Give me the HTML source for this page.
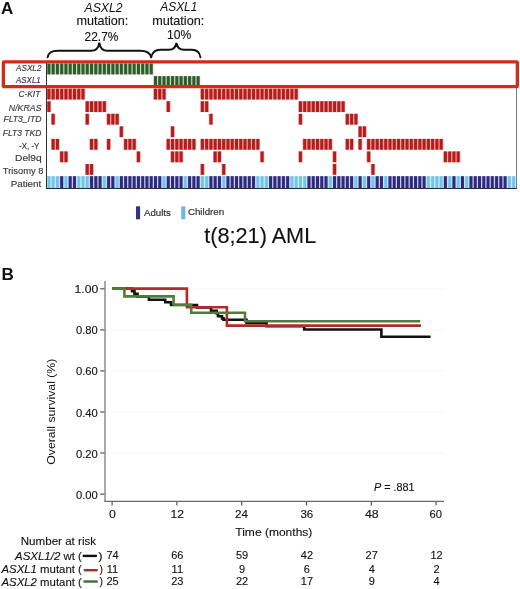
<!DOCTYPE html>
<html><head><meta charset="utf-8"><style>
html,body{margin:0;padding:0;background:#fff;}
body{width:520px;height:589px;overflow:hidden;}
svg{display:block;font-family:"Liberation Sans",sans-serif;filter:blur(0.35px);}
</style></head><body>
<svg width="520" height="589" viewBox="0 0 520 589">
<rect width="520" height="589" fill="#fff"/>
<g fill="none" stroke="#111" stroke-width="1.9" stroke-linecap="round">
<path d="M47.6,57.3 C48.5,52 52,50.8 58,50.8 L91,50.8 C96,50.8 98.6,48 99.3,42.6 C100,48 102.6,50.8 107.6,50.8 L140,50.8 C146,50.8 150,52 151.2,57.3"/>
<path d="M151.2,57.3 C152.4,52 155,49.8 160,49.8 L169,49.8 C173.5,49.8 175.6,47.5 176.4,43 C177.2,47.5 179.3,49.8 184,49.8 L192,49.8 C197,49.8 199.6,52 200.4,57.3"/>
</g>
<line x1="516.5" y1="87" x2="516.5" y2="188.8" stroke="#7a7a7a" stroke-width="1"/>
<rect x="46.72" y="63.60" width="4.36" height="10.8" fill="#b4d3af"/>
<rect x="50.98" y="63.60" width="4.36" height="10.8" fill="#b4d3af"/>
<rect x="55.25" y="63.60" width="4.36" height="10.8" fill="#b4d3af"/>
<rect x="59.51" y="63.60" width="4.36" height="10.8" fill="#b4d3af"/>
<rect x="63.77" y="63.60" width="4.36" height="10.8" fill="#b4d3af"/>
<rect x="68.04" y="63.60" width="4.36" height="10.8" fill="#b4d3af"/>
<rect x="72.30" y="63.60" width="4.36" height="10.8" fill="#b4d3af"/>
<rect x="76.56" y="63.60" width="4.36" height="10.8" fill="#b4d3af"/>
<rect x="80.83" y="63.60" width="4.36" height="10.8" fill="#b4d3af"/>
<rect x="85.09" y="63.60" width="4.36" height="10.8" fill="#b4d3af"/>
<rect x="89.35" y="63.60" width="4.36" height="10.8" fill="#b4d3af"/>
<rect x="93.62" y="63.60" width="4.36" height="10.8" fill="#b4d3af"/>
<rect x="97.88" y="63.60" width="4.36" height="10.8" fill="#b4d3af"/>
<rect x="102.14" y="63.60" width="4.36" height="10.8" fill="#b4d3af"/>
<rect x="106.41" y="63.60" width="4.36" height="10.8" fill="#b4d3af"/>
<rect x="110.67" y="63.60" width="4.36" height="10.8" fill="#b4d3af"/>
<rect x="114.94" y="63.60" width="4.36" height="10.8" fill="#b4d3af"/>
<rect x="119.20" y="63.60" width="4.36" height="10.8" fill="#b4d3af"/>
<rect x="123.46" y="63.60" width="4.36" height="10.8" fill="#b4d3af"/>
<rect x="127.73" y="63.60" width="4.36" height="10.8" fill="#b4d3af"/>
<rect x="131.99" y="63.60" width="4.36" height="10.8" fill="#b4d3af"/>
<rect x="136.25" y="63.60" width="4.36" height="10.8" fill="#b4d3af"/>
<rect x="140.52" y="63.60" width="4.36" height="10.8" fill="#b4d3af"/>
<rect x="144.78" y="63.60" width="4.36" height="10.8" fill="#b4d3af"/>
<rect x="149.04" y="63.60" width="4.36" height="10.8" fill="#b4d3af"/>
<rect x="153.31" y="76.15" width="4.36" height="10.8" fill="#b4d3af"/>
<rect x="157.57" y="76.15" width="4.36" height="10.8" fill="#b4d3af"/>
<rect x="161.84" y="76.15" width="4.36" height="10.8" fill="#b4d3af"/>
<rect x="166.10" y="76.15" width="4.36" height="10.8" fill="#b4d3af"/>
<rect x="170.36" y="76.15" width="4.36" height="10.8" fill="#b4d3af"/>
<rect x="174.63" y="76.15" width="4.36" height="10.8" fill="#b4d3af"/>
<rect x="178.89" y="76.15" width="4.36" height="10.8" fill="#b4d3af"/>
<rect x="183.15" y="76.15" width="4.36" height="10.8" fill="#b4d3af"/>
<rect x="187.42" y="76.15" width="4.36" height="10.8" fill="#b4d3af"/>
<rect x="191.68" y="76.15" width="4.36" height="10.8" fill="#b4d3af"/>
<rect x="195.94" y="76.15" width="4.36" height="10.8" fill="#b4d3af"/>
<rect x="46.72" y="88.70" width="4.36" height="10.8" fill="#ee9c8e"/>
<rect x="50.98" y="88.70" width="4.36" height="10.8" fill="#ee9c8e"/>
<rect x="55.25" y="88.70" width="4.36" height="10.8" fill="#ee9c8e"/>
<rect x="59.51" y="88.70" width="4.36" height="10.8" fill="#ee9c8e"/>
<rect x="63.77" y="88.70" width="4.36" height="10.8" fill="#ee9c8e"/>
<rect x="68.04" y="88.70" width="4.36" height="10.8" fill="#ee9c8e"/>
<rect x="72.30" y="88.70" width="4.36" height="10.8" fill="#ee9c8e"/>
<rect x="76.56" y="88.70" width="4.36" height="10.8" fill="#ee9c8e"/>
<rect x="80.83" y="88.70" width="4.36" height="10.8" fill="#ee9c8e"/>
<rect x="153.31" y="88.70" width="4.36" height="10.8" fill="#ee9c8e"/>
<rect x="157.57" y="88.70" width="4.36" height="10.8" fill="#ee9c8e"/>
<rect x="161.84" y="88.70" width="4.36" height="10.8" fill="#ee9c8e"/>
<rect x="200.21" y="88.70" width="4.36" height="10.8" fill="#ee9c8e"/>
<rect x="204.47" y="88.70" width="4.36" height="10.8" fill="#ee9c8e"/>
<rect x="208.74" y="88.70" width="4.36" height="10.8" fill="#ee9c8e"/>
<rect x="213.00" y="88.70" width="4.36" height="10.8" fill="#ee9c8e"/>
<rect x="217.26" y="88.70" width="4.36" height="10.8" fill="#ee9c8e"/>
<rect x="221.53" y="88.70" width="4.36" height="10.8" fill="#ee9c8e"/>
<rect x="225.79" y="88.70" width="4.36" height="10.8" fill="#ee9c8e"/>
<rect x="230.05" y="88.70" width="4.36" height="10.8" fill="#ee9c8e"/>
<rect x="234.32" y="88.70" width="4.36" height="10.8" fill="#ee9c8e"/>
<rect x="238.58" y="88.70" width="4.36" height="10.8" fill="#ee9c8e"/>
<rect x="242.84" y="88.70" width="4.36" height="10.8" fill="#ee9c8e"/>
<rect x="247.11" y="88.70" width="4.36" height="10.8" fill="#ee9c8e"/>
<rect x="251.37" y="88.70" width="4.36" height="10.8" fill="#ee9c8e"/>
<rect x="255.63" y="88.70" width="4.36" height="10.8" fill="#ee9c8e"/>
<rect x="259.90" y="88.70" width="4.36" height="10.8" fill="#ee9c8e"/>
<rect x="264.16" y="88.70" width="4.36" height="10.8" fill="#ee9c8e"/>
<rect x="268.43" y="88.70" width="4.36" height="10.8" fill="#ee9c8e"/>
<rect x="272.69" y="88.70" width="4.36" height="10.8" fill="#ee9c8e"/>
<rect x="276.95" y="88.70" width="4.36" height="10.8" fill="#ee9c8e"/>
<rect x="281.22" y="88.70" width="4.36" height="10.8" fill="#ee9c8e"/>
<rect x="285.48" y="88.70" width="4.36" height="10.8" fill="#ee9c8e"/>
<rect x="289.74" y="88.70" width="4.36" height="10.8" fill="#ee9c8e"/>
<rect x="294.01" y="88.70" width="4.36" height="10.8" fill="#ee9c8e"/>
<rect x="46.72" y="101.25" width="4.36" height="10.8" fill="#ee9c8e"/>
<rect x="85.09" y="101.25" width="4.36" height="10.8" fill="#ee9c8e"/>
<rect x="89.35" y="101.25" width="4.36" height="10.8" fill="#ee9c8e"/>
<rect x="93.62" y="101.25" width="4.36" height="10.8" fill="#ee9c8e"/>
<rect x="97.88" y="101.25" width="4.36" height="10.8" fill="#ee9c8e"/>
<rect x="102.14" y="101.25" width="4.36" height="10.8" fill="#ee9c8e"/>
<rect x="166.10" y="101.25" width="4.36" height="10.8" fill="#ee9c8e"/>
<rect x="200.21" y="101.25" width="4.36" height="10.8" fill="#ee9c8e"/>
<rect x="204.47" y="101.25" width="4.36" height="10.8" fill="#ee9c8e"/>
<rect x="298.27" y="101.25" width="4.36" height="10.8" fill="#ee9c8e"/>
<rect x="302.53" y="101.25" width="4.36" height="10.8" fill="#ee9c8e"/>
<rect x="306.80" y="101.25" width="4.36" height="10.8" fill="#ee9c8e"/>
<rect x="311.06" y="101.25" width="4.36" height="10.8" fill="#ee9c8e"/>
<rect x="315.32" y="101.25" width="4.36" height="10.8" fill="#ee9c8e"/>
<rect x="319.59" y="101.25" width="4.36" height="10.8" fill="#ee9c8e"/>
<rect x="323.85" y="101.25" width="4.36" height="10.8" fill="#ee9c8e"/>
<rect x="328.12" y="101.25" width="4.36" height="10.8" fill="#ee9c8e"/>
<rect x="332.38" y="101.25" width="4.36" height="10.8" fill="#ee9c8e"/>
<rect x="336.64" y="101.25" width="4.36" height="10.8" fill="#ee9c8e"/>
<rect x="340.91" y="101.25" width="4.36" height="10.8" fill="#ee9c8e"/>
<rect x="50.98" y="113.80" width="4.36" height="10.8" fill="#ee9c8e"/>
<rect x="85.09" y="113.80" width="4.36" height="10.8" fill="#ee9c8e"/>
<rect x="106.41" y="113.80" width="4.36" height="10.8" fill="#ee9c8e"/>
<rect x="110.67" y="113.80" width="4.36" height="10.8" fill="#ee9c8e"/>
<rect x="114.94" y="113.80" width="4.36" height="10.8" fill="#ee9c8e"/>
<rect x="208.74" y="113.80" width="4.36" height="10.8" fill="#ee9c8e"/>
<rect x="298.27" y="113.80" width="4.36" height="10.8" fill="#ee9c8e"/>
<rect x="345.17" y="113.80" width="4.36" height="10.8" fill="#ee9c8e"/>
<rect x="349.43" y="113.80" width="4.36" height="10.8" fill="#ee9c8e"/>
<rect x="353.70" y="113.80" width="4.36" height="10.8" fill="#ee9c8e"/>
<rect x="119.20" y="126.35" width="4.36" height="10.8" fill="#ee9c8e"/>
<rect x="170.36" y="126.35" width="4.36" height="10.8" fill="#ee9c8e"/>
<rect x="357.96" y="126.35" width="4.36" height="10.8" fill="#ee9c8e"/>
<rect x="362.22" y="126.35" width="4.36" height="10.8" fill="#ee9c8e"/>
<rect x="50.98" y="138.90" width="4.36" height="10.8" fill="#ee9c8e"/>
<rect x="55.25" y="138.90" width="4.36" height="10.8" fill="#ee9c8e"/>
<rect x="89.35" y="138.90" width="4.36" height="10.8" fill="#ee9c8e"/>
<rect x="93.62" y="138.90" width="4.36" height="10.8" fill="#ee9c8e"/>
<rect x="106.41" y="138.90" width="4.36" height="10.8" fill="#ee9c8e"/>
<rect x="123.46" y="138.90" width="4.36" height="10.8" fill="#ee9c8e"/>
<rect x="127.73" y="138.90" width="4.36" height="10.8" fill="#ee9c8e"/>
<rect x="131.99" y="138.90" width="4.36" height="10.8" fill="#ee9c8e"/>
<rect x="166.10" y="138.90" width="4.36" height="10.8" fill="#ee9c8e"/>
<rect x="170.36" y="138.90" width="4.36" height="10.8" fill="#ee9c8e"/>
<rect x="174.63" y="138.90" width="4.36" height="10.8" fill="#ee9c8e"/>
<rect x="178.89" y="138.90" width="4.36" height="10.8" fill="#ee9c8e"/>
<rect x="183.15" y="138.90" width="4.36" height="10.8" fill="#ee9c8e"/>
<rect x="187.42" y="138.90" width="4.36" height="10.8" fill="#ee9c8e"/>
<rect x="191.68" y="138.90" width="4.36" height="10.8" fill="#ee9c8e"/>
<rect x="200.21" y="138.90" width="4.36" height="10.8" fill="#ee9c8e"/>
<rect x="204.47" y="138.90" width="4.36" height="10.8" fill="#ee9c8e"/>
<rect x="208.74" y="138.90" width="4.36" height="10.8" fill="#ee9c8e"/>
<rect x="213.00" y="138.90" width="4.36" height="10.8" fill="#ee9c8e"/>
<rect x="217.26" y="138.90" width="4.36" height="10.8" fill="#ee9c8e"/>
<rect x="221.53" y="138.90" width="4.36" height="10.8" fill="#ee9c8e"/>
<rect x="225.79" y="138.90" width="4.36" height="10.8" fill="#ee9c8e"/>
<rect x="230.05" y="138.90" width="4.36" height="10.8" fill="#ee9c8e"/>
<rect x="234.32" y="138.90" width="4.36" height="10.8" fill="#ee9c8e"/>
<rect x="238.58" y="138.90" width="4.36" height="10.8" fill="#ee9c8e"/>
<rect x="242.84" y="138.90" width="4.36" height="10.8" fill="#ee9c8e"/>
<rect x="247.11" y="138.90" width="4.36" height="10.8" fill="#ee9c8e"/>
<rect x="251.37" y="138.90" width="4.36" height="10.8" fill="#ee9c8e"/>
<rect x="255.63" y="138.90" width="4.36" height="10.8" fill="#ee9c8e"/>
<rect x="302.53" y="138.90" width="4.36" height="10.8" fill="#ee9c8e"/>
<rect x="306.80" y="138.90" width="4.36" height="10.8" fill="#ee9c8e"/>
<rect x="311.06" y="138.90" width="4.36" height="10.8" fill="#ee9c8e"/>
<rect x="315.32" y="138.90" width="4.36" height="10.8" fill="#ee9c8e"/>
<rect x="319.59" y="138.90" width="4.36" height="10.8" fill="#ee9c8e"/>
<rect x="323.85" y="138.90" width="4.36" height="10.8" fill="#ee9c8e"/>
<rect x="328.12" y="138.90" width="4.36" height="10.8" fill="#ee9c8e"/>
<rect x="345.17" y="138.90" width="4.36" height="10.8" fill="#ee9c8e"/>
<rect x="349.43" y="138.90" width="4.36" height="10.8" fill="#ee9c8e"/>
<rect x="357.96" y="138.90" width="4.36" height="10.8" fill="#ee9c8e"/>
<rect x="366.49" y="138.90" width="4.36" height="10.8" fill="#ee9c8e"/>
<rect x="370.75" y="138.90" width="4.36" height="10.8" fill="#ee9c8e"/>
<rect x="375.02" y="138.90" width="4.36" height="10.8" fill="#ee9c8e"/>
<rect x="379.28" y="138.90" width="4.36" height="10.8" fill="#ee9c8e"/>
<rect x="383.54" y="138.90" width="4.36" height="10.8" fill="#ee9c8e"/>
<rect x="387.81" y="138.90" width="4.36" height="10.8" fill="#ee9c8e"/>
<rect x="392.07" y="138.90" width="4.36" height="10.8" fill="#ee9c8e"/>
<rect x="396.33" y="138.90" width="4.36" height="10.8" fill="#ee9c8e"/>
<rect x="400.60" y="138.90" width="4.36" height="10.8" fill="#ee9c8e"/>
<rect x="404.86" y="138.90" width="4.36" height="10.8" fill="#ee9c8e"/>
<rect x="409.12" y="138.90" width="4.36" height="10.8" fill="#ee9c8e"/>
<rect x="413.39" y="138.90" width="4.36" height="10.8" fill="#ee9c8e"/>
<rect x="417.65" y="138.90" width="4.36" height="10.8" fill="#ee9c8e"/>
<rect x="421.92" y="138.90" width="4.36" height="10.8" fill="#ee9c8e"/>
<rect x="426.18" y="138.90" width="4.36" height="10.8" fill="#ee9c8e"/>
<rect x="430.44" y="138.90" width="4.36" height="10.8" fill="#ee9c8e"/>
<rect x="434.71" y="138.90" width="4.36" height="10.8" fill="#ee9c8e"/>
<rect x="438.97" y="138.90" width="4.36" height="10.8" fill="#ee9c8e"/>
<rect x="59.51" y="151.45" width="4.36" height="10.8" fill="#ee9c8e"/>
<rect x="63.77" y="151.45" width="4.36" height="10.8" fill="#ee9c8e"/>
<rect x="136.25" y="151.45" width="4.36" height="10.8" fill="#ee9c8e"/>
<rect x="170.36" y="151.45" width="4.36" height="10.8" fill="#ee9c8e"/>
<rect x="174.63" y="151.45" width="4.36" height="10.8" fill="#ee9c8e"/>
<rect x="178.89" y="151.45" width="4.36" height="10.8" fill="#ee9c8e"/>
<rect x="213.00" y="151.45" width="4.36" height="10.8" fill="#ee9c8e"/>
<rect x="217.26" y="151.45" width="4.36" height="10.8" fill="#ee9c8e"/>
<rect x="259.90" y="151.45" width="4.36" height="10.8" fill="#ee9c8e"/>
<rect x="298.27" y="151.45" width="4.36" height="10.8" fill="#ee9c8e"/>
<rect x="332.38" y="151.45" width="4.36" height="10.8" fill="#ee9c8e"/>
<rect x="366.49" y="151.45" width="4.36" height="10.8" fill="#ee9c8e"/>
<rect x="443.23" y="151.45" width="4.36" height="10.8" fill="#ee9c8e"/>
<rect x="447.50" y="151.45" width="4.36" height="10.8" fill="#ee9c8e"/>
<rect x="451.76" y="151.45" width="4.36" height="10.8" fill="#ee9c8e"/>
<rect x="456.02" y="151.45" width="4.36" height="10.8" fill="#ee9c8e"/>
<rect x="85.09" y="164.00" width="4.36" height="10.8" fill="#ee9c8e"/>
<rect x="89.35" y="164.00" width="4.36" height="10.8" fill="#ee9c8e"/>
<rect x="200.21" y="164.00" width="4.36" height="10.8" fill="#ee9c8e"/>
<rect x="221.53" y="164.00" width="4.36" height="10.8" fill="#ee9c8e"/>
<rect x="332.38" y="164.00" width="4.36" height="10.8" fill="#ee9c8e"/>
<rect x="370.75" y="164.00" width="4.36" height="10.8" fill="#ee9c8e"/>
<rect x="46.72" y="176.20" width="4.36" height="11.8" fill="#c8ecf8"/>
<rect x="50.98" y="176.20" width="4.36" height="11.8" fill="#c8ecf8"/>
<rect x="55.25" y="176.20" width="4.36" height="11.8" fill="#c8ecf8"/>
<rect x="59.51" y="176.20" width="4.36" height="11.8" fill="#c4c4ec"/>
<rect x="63.77" y="176.20" width="4.36" height="11.8" fill="#c8ecf8"/>
<rect x="68.04" y="176.20" width="4.36" height="11.8" fill="#c4c4ec"/>
<rect x="72.30" y="176.20" width="4.36" height="11.8" fill="#c4c4ec"/>
<rect x="76.56" y="176.20" width="4.36" height="11.8" fill="#c8ecf8"/>
<rect x="80.83" y="176.20" width="4.36" height="11.8" fill="#c8ecf8"/>
<rect x="85.09" y="176.20" width="4.36" height="11.8" fill="#c8ecf8"/>
<rect x="89.35" y="176.20" width="4.36" height="11.8" fill="#c4c4ec"/>
<rect x="93.62" y="176.20" width="4.36" height="11.8" fill="#c4c4ec"/>
<rect x="97.88" y="176.20" width="4.36" height="11.8" fill="#c4c4ec"/>
<rect x="102.14" y="176.20" width="4.36" height="11.8" fill="#c8ecf8"/>
<rect x="106.41" y="176.20" width="4.36" height="11.8" fill="#c4c4ec"/>
<rect x="110.67" y="176.20" width="4.36" height="11.8" fill="#c4c4ec"/>
<rect x="114.94" y="176.20" width="4.36" height="11.8" fill="#c8ecf8"/>
<rect x="119.20" y="176.20" width="4.36" height="11.8" fill="#c4c4ec"/>
<rect x="123.46" y="176.20" width="4.36" height="11.8" fill="#c4c4ec"/>
<rect x="127.73" y="176.20" width="4.36" height="11.8" fill="#c4c4ec"/>
<rect x="131.99" y="176.20" width="4.36" height="11.8" fill="#c4c4ec"/>
<rect x="136.25" y="176.20" width="4.36" height="11.8" fill="#c4c4ec"/>
<rect x="140.52" y="176.20" width="4.36" height="11.8" fill="#c4c4ec"/>
<rect x="144.78" y="176.20" width="4.36" height="11.8" fill="#c4c4ec"/>
<rect x="149.04" y="176.20" width="4.36" height="11.8" fill="#c4c4ec"/>
<rect x="153.31" y="176.20" width="4.36" height="11.8" fill="#c4c4ec"/>
<rect x="157.57" y="176.20" width="4.36" height="11.8" fill="#c4c4ec"/>
<rect x="161.84" y="176.20" width="4.36" height="11.8" fill="#c8ecf8"/>
<rect x="166.10" y="176.20" width="4.36" height="11.8" fill="#c4c4ec"/>
<rect x="170.36" y="176.20" width="4.36" height="11.8" fill="#c4c4ec"/>
<rect x="174.63" y="176.20" width="4.36" height="11.8" fill="#c4c4ec"/>
<rect x="178.89" y="176.20" width="4.36" height="11.8" fill="#c4c4ec"/>
<rect x="183.15" y="176.20" width="4.36" height="11.8" fill="#c8ecf8"/>
<rect x="187.42" y="176.20" width="4.36" height="11.8" fill="#c4c4ec"/>
<rect x="191.68" y="176.20" width="4.36" height="11.8" fill="#c4c4ec"/>
<rect x="195.94" y="176.20" width="4.36" height="11.8" fill="#c4c4ec"/>
<rect x="200.21" y="176.20" width="4.36" height="11.8" fill="#c8ecf8"/>
<rect x="204.47" y="176.20" width="4.36" height="11.8" fill="#c8ecf8"/>
<rect x="208.74" y="176.20" width="4.36" height="11.8" fill="#c4c4ec"/>
<rect x="213.00" y="176.20" width="4.36" height="11.8" fill="#c4c4ec"/>
<rect x="217.26" y="176.20" width="4.36" height="11.8" fill="#c4c4ec"/>
<rect x="221.53" y="176.20" width="4.36" height="11.8" fill="#c8ecf8"/>
<rect x="225.79" y="176.20" width="4.36" height="11.8" fill="#c4c4ec"/>
<rect x="230.05" y="176.20" width="4.36" height="11.8" fill="#c4c4ec"/>
<rect x="234.32" y="176.20" width="4.36" height="11.8" fill="#c4c4ec"/>
<rect x="238.58" y="176.20" width="4.36" height="11.8" fill="#c4c4ec"/>
<rect x="242.84" y="176.20" width="4.36" height="11.8" fill="#c4c4ec"/>
<rect x="247.11" y="176.20" width="4.36" height="11.8" fill="#c4c4ec"/>
<rect x="251.37" y="176.20" width="4.36" height="11.8" fill="#c4c4ec"/>
<rect x="255.63" y="176.20" width="4.36" height="11.8" fill="#c8ecf8"/>
<rect x="259.90" y="176.20" width="4.36" height="11.8" fill="#c8ecf8"/>
<rect x="264.16" y="176.20" width="4.36" height="11.8" fill="#c8ecf8"/>
<rect x="268.43" y="176.20" width="4.36" height="11.8" fill="#c4c4ec"/>
<rect x="272.69" y="176.20" width="4.36" height="11.8" fill="#c4c4ec"/>
<rect x="276.95" y="176.20" width="4.36" height="11.8" fill="#c4c4ec"/>
<rect x="281.22" y="176.20" width="4.36" height="11.8" fill="#c4c4ec"/>
<rect x="285.48" y="176.20" width="4.36" height="11.8" fill="#c4c4ec"/>
<rect x="289.74" y="176.20" width="4.36" height="11.8" fill="#c8ecf8"/>
<rect x="294.01" y="176.20" width="4.36" height="11.8" fill="#c8ecf8"/>
<rect x="298.27" y="176.20" width="4.36" height="11.8" fill="#c8ecf8"/>
<rect x="302.53" y="176.20" width="4.36" height="11.8" fill="#c8ecf8"/>
<rect x="306.80" y="176.20" width="4.36" height="11.8" fill="#c4c4ec"/>
<rect x="311.06" y="176.20" width="4.36" height="11.8" fill="#c4c4ec"/>
<rect x="315.32" y="176.20" width="4.36" height="11.8" fill="#c4c4ec"/>
<rect x="319.59" y="176.20" width="4.36" height="11.8" fill="#c4c4ec"/>
<rect x="323.85" y="176.20" width="4.36" height="11.8" fill="#c4c4ec"/>
<rect x="328.12" y="176.20" width="4.36" height="11.8" fill="#c8ecf8"/>
<rect x="332.38" y="176.20" width="4.36" height="11.8" fill="#c4c4ec"/>
<rect x="336.64" y="176.20" width="4.36" height="11.8" fill="#c4c4ec"/>
<rect x="340.91" y="176.20" width="4.36" height="11.8" fill="#c4c4ec"/>
<rect x="345.17" y="176.20" width="4.36" height="11.8" fill="#c4c4ec"/>
<rect x="349.43" y="176.20" width="4.36" height="11.8" fill="#c4c4ec"/>
<rect x="353.70" y="176.20" width="4.36" height="11.8" fill="#c8ecf8"/>
<rect x="357.96" y="176.20" width="4.36" height="11.8" fill="#c4c4ec"/>
<rect x="362.22" y="176.20" width="4.36" height="11.8" fill="#c8ecf8"/>
<rect x="366.49" y="176.20" width="4.36" height="11.8" fill="#c4c4ec"/>
<rect x="370.75" y="176.20" width="4.36" height="11.8" fill="#c8ecf8"/>
<rect x="375.02" y="176.20" width="4.36" height="11.8" fill="#c4c4ec"/>
<rect x="379.28" y="176.20" width="4.36" height="11.8" fill="#c4c4ec"/>
<rect x="383.54" y="176.20" width="4.36" height="11.8" fill="#c8ecf8"/>
<rect x="387.81" y="176.20" width="4.36" height="11.8" fill="#c4c4ec"/>
<rect x="392.07" y="176.20" width="4.36" height="11.8" fill="#c4c4ec"/>
<rect x="396.33" y="176.20" width="4.36" height="11.8" fill="#c4c4ec"/>
<rect x="400.60" y="176.20" width="4.36" height="11.8" fill="#c4c4ec"/>
<rect x="404.86" y="176.20" width="4.36" height="11.8" fill="#c4c4ec"/>
<rect x="409.12" y="176.20" width="4.36" height="11.8" fill="#c4c4ec"/>
<rect x="413.39" y="176.20" width="4.36" height="11.8" fill="#c4c4ec"/>
<rect x="417.65" y="176.20" width="4.36" height="11.8" fill="#c4c4ec"/>
<rect x="421.92" y="176.20" width="4.36" height="11.8" fill="#c4c4ec"/>
<rect x="426.18" y="176.20" width="4.36" height="11.8" fill="#c8ecf8"/>
<rect x="430.44" y="176.20" width="4.36" height="11.8" fill="#c8ecf8"/>
<rect x="434.71" y="176.20" width="4.36" height="11.8" fill="#c8ecf8"/>
<rect x="438.97" y="176.20" width="4.36" height="11.8" fill="#c8ecf8"/>
<rect x="443.23" y="176.20" width="4.36" height="11.8" fill="#c4c4ec"/>
<rect x="447.50" y="176.20" width="4.36" height="11.8" fill="#c8ecf8"/>
<rect x="451.76" y="176.20" width="4.36" height="11.8" fill="#c4c4ec"/>
<rect x="456.02" y="176.20" width="4.36" height="11.8" fill="#c8ecf8"/>
<rect x="460.29" y="176.20" width="4.36" height="11.8" fill="#c4c4ec"/>
<rect x="464.55" y="176.20" width="4.36" height="11.8" fill="#c8ecf8"/>
<rect x="468.81" y="176.20" width="4.36" height="11.8" fill="#c4c4ec"/>
<rect x="473.08" y="176.20" width="4.36" height="11.8" fill="#c4c4ec"/>
<rect x="477.34" y="176.20" width="4.36" height="11.8" fill="#c4c4ec"/>
<rect x="481.61" y="176.20" width="4.36" height="11.8" fill="#c4c4ec"/>
<rect x="485.87" y="176.20" width="4.36" height="11.8" fill="#c4c4ec"/>
<rect x="490.13" y="176.20" width="4.36" height="11.8" fill="#c4c4ec"/>
<rect x="494.40" y="176.20" width="4.36" height="11.8" fill="#c4c4ec"/>
<rect x="498.66" y="176.20" width="4.36" height="11.8" fill="#c4c4ec"/>
<rect x="502.92" y="176.20" width="4.36" height="11.8" fill="#c4c4ec"/>
<rect x="507.19" y="176.20" width="4.36" height="11.8" fill="#c8ecf8"/>
<rect x="511.45" y="176.20" width="4.36" height="11.8" fill="#c8ecf8"/>
<rect x="47.40" y="63.60" width="3.0" height="10.8" fill="#305a2d"/>
<rect x="51.66" y="63.60" width="3.0" height="10.8" fill="#305a2d"/>
<rect x="55.93" y="63.60" width="3.0" height="10.8" fill="#305a2d"/>
<rect x="60.19" y="63.60" width="3.0" height="10.8" fill="#305a2d"/>
<rect x="64.45" y="63.60" width="3.0" height="10.8" fill="#305a2d"/>
<rect x="68.72" y="63.60" width="3.0" height="10.8" fill="#305a2d"/>
<rect x="72.98" y="63.60" width="3.0" height="10.8" fill="#305a2d"/>
<rect x="77.25" y="63.60" width="3.0" height="10.8" fill="#305a2d"/>
<rect x="81.51" y="63.60" width="3.0" height="10.8" fill="#305a2d"/>
<rect x="85.77" y="63.60" width="3.0" height="10.8" fill="#305a2d"/>
<rect x="90.04" y="63.60" width="3.0" height="10.8" fill="#305a2d"/>
<rect x="94.30" y="63.60" width="3.0" height="10.8" fill="#305a2d"/>
<rect x="98.56" y="63.60" width="3.0" height="10.8" fill="#305a2d"/>
<rect x="102.83" y="63.60" width="3.0" height="10.8" fill="#305a2d"/>
<rect x="107.09" y="63.60" width="3.0" height="10.8" fill="#305a2d"/>
<rect x="111.35" y="63.60" width="3.0" height="10.8" fill="#305a2d"/>
<rect x="115.62" y="63.60" width="3.0" height="10.8" fill="#305a2d"/>
<rect x="119.88" y="63.60" width="3.0" height="10.8" fill="#305a2d"/>
<rect x="124.14" y="63.60" width="3.0" height="10.8" fill="#305a2d"/>
<rect x="128.41" y="63.60" width="3.0" height="10.8" fill="#305a2d"/>
<rect x="132.67" y="63.60" width="3.0" height="10.8" fill="#305a2d"/>
<rect x="136.94" y="63.60" width="3.0" height="10.8" fill="#305a2d"/>
<rect x="141.20" y="63.60" width="3.0" height="10.8" fill="#305a2d"/>
<rect x="145.46" y="63.60" width="3.0" height="10.8" fill="#305a2d"/>
<rect x="149.73" y="63.60" width="3.0" height="10.8" fill="#305a2d"/>
<rect x="153.99" y="76.15" width="3.0" height="10.8" fill="#305a2d"/>
<rect x="158.25" y="76.15" width="3.0" height="10.8" fill="#305a2d"/>
<rect x="162.52" y="76.15" width="3.0" height="10.8" fill="#305a2d"/>
<rect x="166.78" y="76.15" width="3.0" height="10.8" fill="#305a2d"/>
<rect x="171.04" y="76.15" width="3.0" height="10.8" fill="#305a2d"/>
<rect x="175.31" y="76.15" width="3.0" height="10.8" fill="#305a2d"/>
<rect x="179.57" y="76.15" width="3.0" height="10.8" fill="#305a2d"/>
<rect x="183.84" y="76.15" width="3.0" height="10.8" fill="#305a2d"/>
<rect x="188.10" y="76.15" width="3.0" height="10.8" fill="#305a2d"/>
<rect x="192.36" y="76.15" width="3.0" height="10.8" fill="#305a2d"/>
<rect x="196.63" y="76.15" width="3.0" height="10.8" fill="#305a2d"/>
<rect x="47.40" y="88.70" width="3.0" height="10.8" fill="#b41c22"/>
<rect x="51.66" y="88.70" width="3.0" height="10.8" fill="#b41c22"/>
<rect x="55.93" y="88.70" width="3.0" height="10.8" fill="#b41c22"/>
<rect x="60.19" y="88.70" width="3.0" height="10.8" fill="#b41c22"/>
<rect x="64.45" y="88.70" width="3.0" height="10.8" fill="#b41c22"/>
<rect x="68.72" y="88.70" width="3.0" height="10.8" fill="#b41c22"/>
<rect x="72.98" y="88.70" width="3.0" height="10.8" fill="#b41c22"/>
<rect x="77.25" y="88.70" width="3.0" height="10.8" fill="#b41c22"/>
<rect x="81.51" y="88.70" width="3.0" height="10.8" fill="#b41c22"/>
<rect x="153.99" y="88.70" width="3.0" height="10.8" fill="#b41c22"/>
<rect x="158.25" y="88.70" width="3.0" height="10.8" fill="#b41c22"/>
<rect x="162.52" y="88.70" width="3.0" height="10.8" fill="#b41c22"/>
<rect x="200.89" y="88.70" width="3.0" height="10.8" fill="#b41c22"/>
<rect x="205.15" y="88.70" width="3.0" height="10.8" fill="#b41c22"/>
<rect x="209.42" y="88.70" width="3.0" height="10.8" fill="#b41c22"/>
<rect x="213.68" y="88.70" width="3.0" height="10.8" fill="#b41c22"/>
<rect x="217.94" y="88.70" width="3.0" height="10.8" fill="#b41c22"/>
<rect x="222.21" y="88.70" width="3.0" height="10.8" fill="#b41c22"/>
<rect x="226.47" y="88.70" width="3.0" height="10.8" fill="#b41c22"/>
<rect x="230.73" y="88.70" width="3.0" height="10.8" fill="#b41c22"/>
<rect x="235.00" y="88.70" width="3.0" height="10.8" fill="#b41c22"/>
<rect x="239.26" y="88.70" width="3.0" height="10.8" fill="#b41c22"/>
<rect x="243.53" y="88.70" width="3.0" height="10.8" fill="#b41c22"/>
<rect x="247.79" y="88.70" width="3.0" height="10.8" fill="#b41c22"/>
<rect x="252.05" y="88.70" width="3.0" height="10.8" fill="#b41c22"/>
<rect x="256.32" y="88.70" width="3.0" height="10.8" fill="#b41c22"/>
<rect x="260.58" y="88.70" width="3.0" height="10.8" fill="#b41c22"/>
<rect x="264.84" y="88.70" width="3.0" height="10.8" fill="#b41c22"/>
<rect x="269.11" y="88.70" width="3.0" height="10.8" fill="#b41c22"/>
<rect x="273.37" y="88.70" width="3.0" height="10.8" fill="#b41c22"/>
<rect x="277.63" y="88.70" width="3.0" height="10.8" fill="#b41c22"/>
<rect x="281.90" y="88.70" width="3.0" height="10.8" fill="#b41c22"/>
<rect x="286.16" y="88.70" width="3.0" height="10.8" fill="#b41c22"/>
<rect x="290.43" y="88.70" width="3.0" height="10.8" fill="#b41c22"/>
<rect x="294.69" y="88.70" width="3.0" height="10.8" fill="#b41c22"/>
<rect x="47.40" y="101.25" width="3.0" height="10.8" fill="#b41c22"/>
<rect x="85.77" y="101.25" width="3.0" height="10.8" fill="#b41c22"/>
<rect x="90.04" y="101.25" width="3.0" height="10.8" fill="#b41c22"/>
<rect x="94.30" y="101.25" width="3.0" height="10.8" fill="#b41c22"/>
<rect x="98.56" y="101.25" width="3.0" height="10.8" fill="#b41c22"/>
<rect x="102.83" y="101.25" width="3.0" height="10.8" fill="#b41c22"/>
<rect x="166.78" y="101.25" width="3.0" height="10.8" fill="#b41c22"/>
<rect x="200.89" y="101.25" width="3.0" height="10.8" fill="#b41c22"/>
<rect x="205.15" y="101.25" width="3.0" height="10.8" fill="#b41c22"/>
<rect x="298.95" y="101.25" width="3.0" height="10.8" fill="#b41c22"/>
<rect x="303.22" y="101.25" width="3.0" height="10.8" fill="#b41c22"/>
<rect x="307.48" y="101.25" width="3.0" height="10.8" fill="#b41c22"/>
<rect x="311.74" y="101.25" width="3.0" height="10.8" fill="#b41c22"/>
<rect x="316.01" y="101.25" width="3.0" height="10.8" fill="#b41c22"/>
<rect x="320.27" y="101.25" width="3.0" height="10.8" fill="#b41c22"/>
<rect x="324.53" y="101.25" width="3.0" height="10.8" fill="#b41c22"/>
<rect x="328.80" y="101.25" width="3.0" height="10.8" fill="#b41c22"/>
<rect x="333.06" y="101.25" width="3.0" height="10.8" fill="#b41c22"/>
<rect x="337.32" y="101.25" width="3.0" height="10.8" fill="#b41c22"/>
<rect x="341.59" y="101.25" width="3.0" height="10.8" fill="#b41c22"/>
<rect x="51.66" y="113.80" width="3.0" height="10.8" fill="#b41c22"/>
<rect x="85.77" y="113.80" width="3.0" height="10.8" fill="#b41c22"/>
<rect x="107.09" y="113.80" width="3.0" height="10.8" fill="#b41c22"/>
<rect x="111.35" y="113.80" width="3.0" height="10.8" fill="#b41c22"/>
<rect x="115.62" y="113.80" width="3.0" height="10.8" fill="#b41c22"/>
<rect x="209.42" y="113.80" width="3.0" height="10.8" fill="#b41c22"/>
<rect x="298.95" y="113.80" width="3.0" height="10.8" fill="#b41c22"/>
<rect x="345.85" y="113.80" width="3.0" height="10.8" fill="#b41c22"/>
<rect x="350.12" y="113.80" width="3.0" height="10.8" fill="#b41c22"/>
<rect x="354.38" y="113.80" width="3.0" height="10.8" fill="#b41c22"/>
<rect x="119.88" y="126.35" width="3.0" height="10.8" fill="#b41c22"/>
<rect x="171.04" y="126.35" width="3.0" height="10.8" fill="#b41c22"/>
<rect x="358.64" y="126.35" width="3.0" height="10.8" fill="#b41c22"/>
<rect x="362.91" y="126.35" width="3.0" height="10.8" fill="#b41c22"/>
<rect x="51.66" y="138.90" width="3.0" height="10.8" fill="#b41c22"/>
<rect x="55.93" y="138.90" width="3.0" height="10.8" fill="#b41c22"/>
<rect x="90.04" y="138.90" width="3.0" height="10.8" fill="#b41c22"/>
<rect x="94.30" y="138.90" width="3.0" height="10.8" fill="#b41c22"/>
<rect x="107.09" y="138.90" width="3.0" height="10.8" fill="#b41c22"/>
<rect x="124.14" y="138.90" width="3.0" height="10.8" fill="#b41c22"/>
<rect x="128.41" y="138.90" width="3.0" height="10.8" fill="#b41c22"/>
<rect x="132.67" y="138.90" width="3.0" height="10.8" fill="#b41c22"/>
<rect x="166.78" y="138.90" width="3.0" height="10.8" fill="#b41c22"/>
<rect x="171.04" y="138.90" width="3.0" height="10.8" fill="#b41c22"/>
<rect x="175.31" y="138.90" width="3.0" height="10.8" fill="#b41c22"/>
<rect x="179.57" y="138.90" width="3.0" height="10.8" fill="#b41c22"/>
<rect x="183.84" y="138.90" width="3.0" height="10.8" fill="#b41c22"/>
<rect x="188.10" y="138.90" width="3.0" height="10.8" fill="#b41c22"/>
<rect x="192.36" y="138.90" width="3.0" height="10.8" fill="#b41c22"/>
<rect x="200.89" y="138.90" width="3.0" height="10.8" fill="#b41c22"/>
<rect x="205.15" y="138.90" width="3.0" height="10.8" fill="#b41c22"/>
<rect x="209.42" y="138.90" width="3.0" height="10.8" fill="#b41c22"/>
<rect x="213.68" y="138.90" width="3.0" height="10.8" fill="#b41c22"/>
<rect x="217.94" y="138.90" width="3.0" height="10.8" fill="#b41c22"/>
<rect x="222.21" y="138.90" width="3.0" height="10.8" fill="#b41c22"/>
<rect x="226.47" y="138.90" width="3.0" height="10.8" fill="#b41c22"/>
<rect x="230.73" y="138.90" width="3.0" height="10.8" fill="#b41c22"/>
<rect x="235.00" y="138.90" width="3.0" height="10.8" fill="#b41c22"/>
<rect x="239.26" y="138.90" width="3.0" height="10.8" fill="#b41c22"/>
<rect x="243.53" y="138.90" width="3.0" height="10.8" fill="#b41c22"/>
<rect x="247.79" y="138.90" width="3.0" height="10.8" fill="#b41c22"/>
<rect x="252.05" y="138.90" width="3.0" height="10.8" fill="#b41c22"/>
<rect x="256.32" y="138.90" width="3.0" height="10.8" fill="#b41c22"/>
<rect x="303.22" y="138.90" width="3.0" height="10.8" fill="#b41c22"/>
<rect x="307.48" y="138.90" width="3.0" height="10.8" fill="#b41c22"/>
<rect x="311.74" y="138.90" width="3.0" height="10.8" fill="#b41c22"/>
<rect x="316.01" y="138.90" width="3.0" height="10.8" fill="#b41c22"/>
<rect x="320.27" y="138.90" width="3.0" height="10.8" fill="#b41c22"/>
<rect x="324.53" y="138.90" width="3.0" height="10.8" fill="#b41c22"/>
<rect x="328.80" y="138.90" width="3.0" height="10.8" fill="#b41c22"/>
<rect x="345.85" y="138.90" width="3.0" height="10.8" fill="#b41c22"/>
<rect x="350.12" y="138.90" width="3.0" height="10.8" fill="#b41c22"/>
<rect x="358.64" y="138.90" width="3.0" height="10.8" fill="#b41c22"/>
<rect x="367.17" y="138.90" width="3.0" height="10.8" fill="#b41c22"/>
<rect x="371.43" y="138.90" width="3.0" height="10.8" fill="#b41c22"/>
<rect x="375.70" y="138.90" width="3.0" height="10.8" fill="#b41c22"/>
<rect x="379.96" y="138.90" width="3.0" height="10.8" fill="#b41c22"/>
<rect x="384.22" y="138.90" width="3.0" height="10.8" fill="#b41c22"/>
<rect x="388.49" y="138.90" width="3.0" height="10.8" fill="#b41c22"/>
<rect x="392.75" y="138.90" width="3.0" height="10.8" fill="#b41c22"/>
<rect x="397.02" y="138.90" width="3.0" height="10.8" fill="#b41c22"/>
<rect x="401.28" y="138.90" width="3.0" height="10.8" fill="#b41c22"/>
<rect x="405.54" y="138.90" width="3.0" height="10.8" fill="#b41c22"/>
<rect x="409.81" y="138.90" width="3.0" height="10.8" fill="#b41c22"/>
<rect x="414.07" y="138.90" width="3.0" height="10.8" fill="#b41c22"/>
<rect x="418.33" y="138.90" width="3.0" height="10.8" fill="#b41c22"/>
<rect x="422.60" y="138.90" width="3.0" height="10.8" fill="#b41c22"/>
<rect x="426.86" y="138.90" width="3.0" height="10.8" fill="#b41c22"/>
<rect x="431.12" y="138.90" width="3.0" height="10.8" fill="#b41c22"/>
<rect x="435.39" y="138.90" width="3.0" height="10.8" fill="#b41c22"/>
<rect x="439.65" y="138.90" width="3.0" height="10.8" fill="#b41c22"/>
<rect x="60.19" y="151.45" width="3.0" height="10.8" fill="#b41c22"/>
<rect x="64.45" y="151.45" width="3.0" height="10.8" fill="#b41c22"/>
<rect x="136.94" y="151.45" width="3.0" height="10.8" fill="#b41c22"/>
<rect x="171.04" y="151.45" width="3.0" height="10.8" fill="#b41c22"/>
<rect x="175.31" y="151.45" width="3.0" height="10.8" fill="#b41c22"/>
<rect x="179.57" y="151.45" width="3.0" height="10.8" fill="#b41c22"/>
<rect x="213.68" y="151.45" width="3.0" height="10.8" fill="#b41c22"/>
<rect x="217.94" y="151.45" width="3.0" height="10.8" fill="#b41c22"/>
<rect x="260.58" y="151.45" width="3.0" height="10.8" fill="#b41c22"/>
<rect x="298.95" y="151.45" width="3.0" height="10.8" fill="#b41c22"/>
<rect x="333.06" y="151.45" width="3.0" height="10.8" fill="#b41c22"/>
<rect x="367.17" y="151.45" width="3.0" height="10.8" fill="#b41c22"/>
<rect x="443.91" y="151.45" width="3.0" height="10.8" fill="#b41c22"/>
<rect x="448.18" y="151.45" width="3.0" height="10.8" fill="#b41c22"/>
<rect x="452.44" y="151.45" width="3.0" height="10.8" fill="#b41c22"/>
<rect x="456.71" y="151.45" width="3.0" height="10.8" fill="#b41c22"/>
<rect x="85.77" y="164.00" width="3.0" height="10.8" fill="#b41c22"/>
<rect x="90.04" y="164.00" width="3.0" height="10.8" fill="#b41c22"/>
<rect x="200.89" y="164.00" width="3.0" height="10.8" fill="#b41c22"/>
<rect x="222.21" y="164.00" width="3.0" height="10.8" fill="#b41c22"/>
<rect x="333.06" y="164.00" width="3.0" height="10.8" fill="#b41c22"/>
<rect x="371.43" y="164.00" width="3.0" height="10.8" fill="#b41c22"/>
<rect x="47.40" y="176.20" width="3.0" height="11.8" fill="#76c3ea"/>
<rect x="51.66" y="176.20" width="3.0" height="11.8" fill="#76c3ea"/>
<rect x="55.93" y="176.20" width="3.0" height="11.8" fill="#76c3ea"/>
<rect x="60.19" y="176.20" width="3.0" height="11.8" fill="#2c2a7a"/>
<rect x="64.45" y="176.20" width="3.0" height="11.8" fill="#76c3ea"/>
<rect x="68.72" y="176.20" width="3.0" height="11.8" fill="#2c2a7a"/>
<rect x="72.98" y="176.20" width="3.0" height="11.8" fill="#2c2a7a"/>
<rect x="77.25" y="176.20" width="3.0" height="11.8" fill="#76c3ea"/>
<rect x="81.51" y="176.20" width="3.0" height="11.8" fill="#76c3ea"/>
<rect x="85.77" y="176.20" width="3.0" height="11.8" fill="#76c3ea"/>
<rect x="90.04" y="176.20" width="3.0" height="11.8" fill="#2c2a7a"/>
<rect x="94.30" y="176.20" width="3.0" height="11.8" fill="#2c2a7a"/>
<rect x="98.56" y="176.20" width="3.0" height="11.8" fill="#2c2a7a"/>
<rect x="102.83" y="176.20" width="3.0" height="11.8" fill="#76c3ea"/>
<rect x="107.09" y="176.20" width="3.0" height="11.8" fill="#2c2a7a"/>
<rect x="111.35" y="176.20" width="3.0" height="11.8" fill="#2c2a7a"/>
<rect x="115.62" y="176.20" width="3.0" height="11.8" fill="#76c3ea"/>
<rect x="119.88" y="176.20" width="3.0" height="11.8" fill="#2c2a7a"/>
<rect x="124.14" y="176.20" width="3.0" height="11.8" fill="#2c2a7a"/>
<rect x="128.41" y="176.20" width="3.0" height="11.8" fill="#2c2a7a"/>
<rect x="132.67" y="176.20" width="3.0" height="11.8" fill="#2c2a7a"/>
<rect x="136.94" y="176.20" width="3.0" height="11.8" fill="#2c2a7a"/>
<rect x="141.20" y="176.20" width="3.0" height="11.8" fill="#2c2a7a"/>
<rect x="145.46" y="176.20" width="3.0" height="11.8" fill="#2c2a7a"/>
<rect x="149.73" y="176.20" width="3.0" height="11.8" fill="#2c2a7a"/>
<rect x="153.99" y="176.20" width="3.0" height="11.8" fill="#2c2a7a"/>
<rect x="158.25" y="176.20" width="3.0" height="11.8" fill="#2c2a7a"/>
<rect x="162.52" y="176.20" width="3.0" height="11.8" fill="#76c3ea"/>
<rect x="166.78" y="176.20" width="3.0" height="11.8" fill="#2c2a7a"/>
<rect x="171.04" y="176.20" width="3.0" height="11.8" fill="#2c2a7a"/>
<rect x="175.31" y="176.20" width="3.0" height="11.8" fill="#2c2a7a"/>
<rect x="179.57" y="176.20" width="3.0" height="11.8" fill="#2c2a7a"/>
<rect x="183.84" y="176.20" width="3.0" height="11.8" fill="#76c3ea"/>
<rect x="188.10" y="176.20" width="3.0" height="11.8" fill="#2c2a7a"/>
<rect x="192.36" y="176.20" width="3.0" height="11.8" fill="#2c2a7a"/>
<rect x="196.63" y="176.20" width="3.0" height="11.8" fill="#2c2a7a"/>
<rect x="200.89" y="176.20" width="3.0" height="11.8" fill="#76c3ea"/>
<rect x="205.15" y="176.20" width="3.0" height="11.8" fill="#76c3ea"/>
<rect x="209.42" y="176.20" width="3.0" height="11.8" fill="#2c2a7a"/>
<rect x="213.68" y="176.20" width="3.0" height="11.8" fill="#2c2a7a"/>
<rect x="217.94" y="176.20" width="3.0" height="11.8" fill="#2c2a7a"/>
<rect x="222.21" y="176.20" width="3.0" height="11.8" fill="#76c3ea"/>
<rect x="226.47" y="176.20" width="3.0" height="11.8" fill="#2c2a7a"/>
<rect x="230.73" y="176.20" width="3.0" height="11.8" fill="#2c2a7a"/>
<rect x="235.00" y="176.20" width="3.0" height="11.8" fill="#2c2a7a"/>
<rect x="239.26" y="176.20" width="3.0" height="11.8" fill="#2c2a7a"/>
<rect x="243.53" y="176.20" width="3.0" height="11.8" fill="#2c2a7a"/>
<rect x="247.79" y="176.20" width="3.0" height="11.8" fill="#2c2a7a"/>
<rect x="252.05" y="176.20" width="3.0" height="11.8" fill="#2c2a7a"/>
<rect x="256.32" y="176.20" width="3.0" height="11.8" fill="#76c3ea"/>
<rect x="260.58" y="176.20" width="3.0" height="11.8" fill="#76c3ea"/>
<rect x="264.84" y="176.20" width="3.0" height="11.8" fill="#76c3ea"/>
<rect x="269.11" y="176.20" width="3.0" height="11.8" fill="#2c2a7a"/>
<rect x="273.37" y="176.20" width="3.0" height="11.8" fill="#2c2a7a"/>
<rect x="277.63" y="176.20" width="3.0" height="11.8" fill="#2c2a7a"/>
<rect x="281.90" y="176.20" width="3.0" height="11.8" fill="#2c2a7a"/>
<rect x="286.16" y="176.20" width="3.0" height="11.8" fill="#2c2a7a"/>
<rect x="290.43" y="176.20" width="3.0" height="11.8" fill="#76c3ea"/>
<rect x="294.69" y="176.20" width="3.0" height="11.8" fill="#76c3ea"/>
<rect x="298.95" y="176.20" width="3.0" height="11.8" fill="#76c3ea"/>
<rect x="303.22" y="176.20" width="3.0" height="11.8" fill="#76c3ea"/>
<rect x="307.48" y="176.20" width="3.0" height="11.8" fill="#2c2a7a"/>
<rect x="311.74" y="176.20" width="3.0" height="11.8" fill="#2c2a7a"/>
<rect x="316.01" y="176.20" width="3.0" height="11.8" fill="#2c2a7a"/>
<rect x="320.27" y="176.20" width="3.0" height="11.8" fill="#2c2a7a"/>
<rect x="324.53" y="176.20" width="3.0" height="11.8" fill="#2c2a7a"/>
<rect x="328.80" y="176.20" width="3.0" height="11.8" fill="#76c3ea"/>
<rect x="333.06" y="176.20" width="3.0" height="11.8" fill="#2c2a7a"/>
<rect x="337.32" y="176.20" width="3.0" height="11.8" fill="#2c2a7a"/>
<rect x="341.59" y="176.20" width="3.0" height="11.8" fill="#2c2a7a"/>
<rect x="345.85" y="176.20" width="3.0" height="11.8" fill="#2c2a7a"/>
<rect x="350.12" y="176.20" width="3.0" height="11.8" fill="#2c2a7a"/>
<rect x="354.38" y="176.20" width="3.0" height="11.8" fill="#76c3ea"/>
<rect x="358.64" y="176.20" width="3.0" height="11.8" fill="#2c2a7a"/>
<rect x="362.91" y="176.20" width="3.0" height="11.8" fill="#76c3ea"/>
<rect x="367.17" y="176.20" width="3.0" height="11.8" fill="#2c2a7a"/>
<rect x="371.43" y="176.20" width="3.0" height="11.8" fill="#76c3ea"/>
<rect x="375.70" y="176.20" width="3.0" height="11.8" fill="#2c2a7a"/>
<rect x="379.96" y="176.20" width="3.0" height="11.8" fill="#2c2a7a"/>
<rect x="384.22" y="176.20" width="3.0" height="11.8" fill="#76c3ea"/>
<rect x="388.49" y="176.20" width="3.0" height="11.8" fill="#2c2a7a"/>
<rect x="392.75" y="176.20" width="3.0" height="11.8" fill="#2c2a7a"/>
<rect x="397.02" y="176.20" width="3.0" height="11.8" fill="#2c2a7a"/>
<rect x="401.28" y="176.20" width="3.0" height="11.8" fill="#2c2a7a"/>
<rect x="405.54" y="176.20" width="3.0" height="11.8" fill="#2c2a7a"/>
<rect x="409.81" y="176.20" width="3.0" height="11.8" fill="#2c2a7a"/>
<rect x="414.07" y="176.20" width="3.0" height="11.8" fill="#2c2a7a"/>
<rect x="418.33" y="176.20" width="3.0" height="11.8" fill="#2c2a7a"/>
<rect x="422.60" y="176.20" width="3.0" height="11.8" fill="#2c2a7a"/>
<rect x="426.86" y="176.20" width="3.0" height="11.8" fill="#76c3ea"/>
<rect x="431.12" y="176.20" width="3.0" height="11.8" fill="#76c3ea"/>
<rect x="435.39" y="176.20" width="3.0" height="11.8" fill="#76c3ea"/>
<rect x="439.65" y="176.20" width="3.0" height="11.8" fill="#76c3ea"/>
<rect x="443.91" y="176.20" width="3.0" height="11.8" fill="#2c2a7a"/>
<rect x="448.18" y="176.20" width="3.0" height="11.8" fill="#76c3ea"/>
<rect x="452.44" y="176.20" width="3.0" height="11.8" fill="#2c2a7a"/>
<rect x="456.71" y="176.20" width="3.0" height="11.8" fill="#76c3ea"/>
<rect x="460.97" y="176.20" width="3.0" height="11.8" fill="#2c2a7a"/>
<rect x="465.23" y="176.20" width="3.0" height="11.8" fill="#76c3ea"/>
<rect x="469.50" y="176.20" width="3.0" height="11.8" fill="#2c2a7a"/>
<rect x="473.76" y="176.20" width="3.0" height="11.8" fill="#2c2a7a"/>
<rect x="478.02" y="176.20" width="3.0" height="11.8" fill="#2c2a7a"/>
<rect x="482.29" y="176.20" width="3.0" height="11.8" fill="#2c2a7a"/>
<rect x="486.55" y="176.20" width="3.0" height="11.8" fill="#2c2a7a"/>
<rect x="490.81" y="176.20" width="3.0" height="11.8" fill="#2c2a7a"/>
<rect x="495.08" y="176.20" width="3.0" height="11.8" fill="#2c2a7a"/>
<rect x="499.34" y="176.20" width="3.0" height="11.8" fill="#2c2a7a"/>
<rect x="503.61" y="176.20" width="3.0" height="11.8" fill="#2c2a7a"/>
<rect x="507.87" y="176.20" width="3.0" height="11.8" fill="#76c3ea"/>
<rect x="512.13" y="176.20" width="3.0" height="11.8" fill="#76c3ea"/>
<line x1="46.5" y1="63" x2="46.5" y2="188.8" stroke="#333" stroke-width="1"/>
<line x1="46" y1="188.5" x2="517" y2="188.5" stroke="#2a2a2a" stroke-width="1"/>
<rect x="3.35" y="61.95" width="514.0" height="24.7" rx="0.6" fill="none" stroke="#d22c14" stroke-width="3.3"/>
<rect x="136" y="206.3" width="4.1" height="13" fill="#34338c"/>
<rect x="181.2" y="206.3" width="4.1" height="13" fill="#6db8e6"/>
<g fill="none">
<g stroke="#f6f6f6" stroke-width="1"><line x1="106" y1="288.8" x2="444" y2="288.8"/><line x1="106" y1="329.9" x2="444" y2="329.9"/><line x1="106" y1="370.9" x2="444" y2="370.9"/><line x1="106" y1="412.0" x2="444" y2="412.0"/><line x1="106" y1="453.0" x2="444" y2="453.0"/></g>
<line x1="105" y1="281" x2="105" y2="501.9" stroke="#8c8c8c" stroke-width="1.5"/>
<line x1="104.3" y1="501.3" x2="444" y2="501.3" stroke="#6a6a6a" stroke-width="1.3"/>
<g stroke="#555" stroke-width="1.2">
<line x1="100.2" y1="288.8" x2="104.5" y2="288.8"/>
<line x1="100.2" y1="329.9" x2="104.5" y2="329.9"/>
<line x1="100.2" y1="370.9" x2="104.5" y2="370.9"/>
<line x1="100.2" y1="412.0" x2="104.5" y2="412.0"/>
<line x1="100.2" y1="453.0" x2="104.5" y2="453.0"/>
<line x1="100.2" y1="494.1" x2="104.5" y2="494.1"/>
<line x1="112.1" y1="502" x2="112.1" y2="505.6"/>
<line x1="176.9" y1="502" x2="176.9" y2="505.6"/>
<line x1="241.7" y1="502" x2="241.7" y2="505.6"/>
<line x1="306.5" y1="502" x2="306.5" y2="505.6"/>
<line x1="371.3" y1="502" x2="371.3" y2="505.6"/>
<line x1="436.1" y1="502" x2="436.1" y2="505.6"/>
</g>
</g>
<g fill="none" stroke-width="2.6" stroke-linejoin="miter">
<polyline points="112.0,288.6 132.0,288.6 132.0,291.2 134.5,291.2 134.5,293.8 137.5,293.8 137.5,296.8 148.9,296.8 148.9,299.7 165.2,299.7 165.2,302.2 171.0,302.2 171.0,305.0 197.0,305.0 197.0,307.4 211.0,307.4 211.0,310.7 216.7,310.7 216.7,313.5 218.0,313.5 218.0,316.2 222.0,316.2 222.0,318.4 223.5,318.4 223.5,319.7 246.5,319.7 246.5,322.9 266.5,322.9 266.5,326.2 304.2,326.2 304.2,329.5 381.4,329.5 381.4,336.7 430.6,336.7" stroke="#111"/>
<polyline points="112.0,288.6 186.9,288.6 186.9,307.2 226.9,307.2 226.9,325.6 420.9,325.6" stroke="#b02c28"/>
<polyline points="112.0,288.6 124.4,288.6 124.4,296.4 173.6,296.4 173.6,304.8 191.2,304.8 191.2,312.8 245.0,312.8 245.0,321.2 420.2,321.2" stroke="#4f7d3c"/>
</g>
<text x="1.00" y="14.16" font-size="16.40" font-weight="bold" fill="#111" textLength="12.25" lengthAdjust="spacingAndGlyphs">A</text>
<text x="1.60" y="279.76" font-size="16.40" font-weight="bold" fill="#111" textLength="12.38" lengthAdjust="spacingAndGlyphs">B</text>
<text x="84.50" y="12.18" font-size="12.20" font-style="italic" fill="#111" textLength="37.99" lengthAdjust="spacingAndGlyphs">ASXL2</text>
<text x="76.50" y="24.78" font-size="12.20" fill="#111" stroke="#111" stroke-width="0.12" textLength="51.86" lengthAdjust="spacingAndGlyphs">mutation:</text>
<text x="84.60" y="40.68" font-size="12.20" fill="#111" stroke="#111" stroke-width="0.12" textLength="33.79" lengthAdjust="spacingAndGlyphs">22.7%</text>
<text x="160.20" y="10.98" font-size="12.20" font-style="italic" fill="#111" textLength="37.25" lengthAdjust="spacingAndGlyphs">ASXL1</text>
<text x="152.20" y="25.18" font-size="12.20" fill="#111" stroke="#111" stroke-width="0.12" textLength="52.07" lengthAdjust="spacingAndGlyphs">mutation:</text>
<text x="167.10" y="39.48" font-size="12.20" fill="#111" stroke="#111" stroke-width="0.12" textLength="24.26" lengthAdjust="spacingAndGlyphs">10%</text>
<text x="16.00" y="71.28" font-size="9.00" font-style="italic" fill="#3a3a3a" stroke="#3a3a3a" stroke-width="0.15" textLength="25.46" lengthAdjust="spacingAndGlyphs">ASXL2</text>
<text x="16.00" y="82.88" font-size="9.00" font-style="italic" fill="#3a3a3a" stroke="#3a3a3a" stroke-width="0.15" textLength="24.77" lengthAdjust="spacingAndGlyphs">ASXL1</text>
<text x="18.40" y="97.48" font-size="9.00" font-style="italic" fill="#3a3a3a" stroke="#3a3a3a" stroke-width="0.15" textLength="21.90" lengthAdjust="spacingAndGlyphs">C-KIT</text>
<text x="8.80" y="110.68" font-size="9.00" font-style="italic" fill="#3a3a3a" stroke="#3a3a3a" stroke-width="0.15" textLength="32.75" lengthAdjust="spacingAndGlyphs">N/KRAS</text>
<text x="3.40" y="122.18" font-size="9.00" font-style="italic" fill="#3a3a3a" stroke="#3a3a3a" stroke-width="0.15" textLength="38.05" lengthAdjust="spacingAndGlyphs">FLT3_ITD</text>
<text x="2.80" y="136.08" font-size="9.00" font-style="italic" fill="#3a3a3a" stroke="#3a3a3a" stroke-width="0.15" textLength="38.49" lengthAdjust="spacingAndGlyphs">FLT3 TKD</text>
<text x="19.00" y="149.28" font-size="9.00" fill="#3a3a3a" stroke="#3a3a3a" stroke-width="0.15" textLength="20.37" lengthAdjust="spacingAndGlyphs">-X, -Y</text>
<text x="15.00" y="160.68" font-size="9.00" fill="#3a3a3a" stroke="#3a3a3a" stroke-width="0.15" textLength="26.72" lengthAdjust="spacingAndGlyphs">Del9q</text>
<text x="2.80" y="174.48" font-size="9.00" fill="#3a3a3a" stroke="#3a3a3a" stroke-width="0.15" textLength="40.69" lengthAdjust="spacingAndGlyphs">Trisomy 8</text>
<text x="10.70" y="187.38" font-size="9.00" fill="#3a3a3a" stroke="#3a3a3a" stroke-width="0.15" textLength="30.60" lengthAdjust="spacingAndGlyphs">Patient</text>
<text x="144.00" y="215.91" font-size="9.60" fill="#333" stroke="#333" stroke-width="0.2" textLength="26.79" lengthAdjust="spacingAndGlyphs">Adults</text>
<text x="187.90" y="215.11" font-size="9.60" fill="#333" stroke="#333" stroke-width="0.2" textLength="36.23" lengthAdjust="spacingAndGlyphs">Children</text>
<text x="204.30" y="242.94" font-size="21.30" fill="#111" stroke="#111" stroke-width="0.12" textLength="111.91" lengthAdjust="spacingAndGlyphs">t(8;21) AML</text>
<text x="74.60" y="293.12" font-size="11.00" fill="#111" stroke="#111" stroke-width="0.12" textLength="23.64" lengthAdjust="spacingAndGlyphs">1.00</text>
<text x="76.00" y="334.42" font-size="11.00" fill="#111" stroke="#111" stroke-width="0.12" textLength="21.88" lengthAdjust="spacingAndGlyphs">0.80</text>
<text x="76.00" y="375.42" font-size="11.00" fill="#111" stroke="#111" stroke-width="0.12" textLength="21.88" lengthAdjust="spacingAndGlyphs">0.60</text>
<text x="76.00" y="416.72" font-size="11.00" fill="#111" stroke="#111" stroke-width="0.12" textLength="21.88" lengthAdjust="spacingAndGlyphs">0.40</text>
<text x="76.00" y="457.72" font-size="11.00" fill="#111" stroke="#111" stroke-width="0.12" textLength="21.88" lengthAdjust="spacingAndGlyphs">0.20</text>
<text x="76.00" y="499.02" font-size="11.00" fill="#111" stroke="#111" stroke-width="0.12" textLength="21.88" lengthAdjust="spacingAndGlyphs">0.00</text>
<text x="108.90" y="518.42" font-size="11.00" fill="#111" stroke="#111" stroke-width="0.12" textLength="6.86" lengthAdjust="spacingAndGlyphs">0</text>
<text x="170.50" y="518.42" font-size="11.00" fill="#111" stroke="#111" stroke-width="0.12" textLength="13.52" lengthAdjust="spacingAndGlyphs">12</text>
<text x="235.00" y="518.42" font-size="11.00" fill="#111" stroke="#111" stroke-width="0.12" textLength="13.05" lengthAdjust="spacingAndGlyphs">24</text>
<text x="300.40" y="518.42" font-size="11.00" fill="#111" stroke="#111" stroke-width="0.12" textLength="12.82" lengthAdjust="spacingAndGlyphs">36</text>
<text x="364.90" y="518.42" font-size="11.00" fill="#111" stroke="#111" stroke-width="0.12" textLength="13.76" lengthAdjust="spacingAndGlyphs">48</text>
<text x="429.60" y="518.42" font-size="11.00" fill="#111" stroke="#111" stroke-width="0.12" textLength="12.51" lengthAdjust="spacingAndGlyphs">60</text>
<text x="373.90" y="490.62" font-size="11.00" fill="#111" stroke="#111" stroke-width="0.12" textLength="40.71" lengthAdjust="spacingAndGlyphs"><tspan font-style="italic">P</tspan> = .881</text>
<text x="235.30" y="536.10" font-size="11.80" fill="#111" stroke="#111" stroke-width="0.12" textLength="77.06" lengthAdjust="spacingAndGlyphs">Time (months)</text>
<text x="20.70" y="545.32" font-size="11.00" fill="#111" stroke="#111" stroke-width="0.12" textLength="75.43" lengthAdjust="spacingAndGlyphs">Number at risk</text>
<text x="15.00" y="559.92" font-size="11.00" fill="#111" stroke="#111" stroke-width="0.12" textLength="66.94" lengthAdjust="spacingAndGlyphs"><tspan font-style="italic">ASXL1/2</tspan> wt (</text>
<text x="1.50" y="572.92" font-size="11.00" fill="#111" stroke="#111" stroke-width="0.12" textLength="80.38" lengthAdjust="spacingAndGlyphs"><tspan font-style="italic">ASXL1</tspan> mutant (</text>
<text x="1.50" y="585.52" font-size="11.00" fill="#111" stroke="#111" stroke-width="0.12" textLength="80.37" lengthAdjust="spacingAndGlyphs"><tspan font-style="italic">ASXL2</tspan> mutant (</text>
<text x="98.30" y="560.42" font-size="11.00" fill="#111" stroke="#111" stroke-width="0.12" textLength="4.31" lengthAdjust="spacingAndGlyphs">)</text>
<text x="99.40" y="572.92" font-size="11.00" fill="#111" stroke="#111" stroke-width="0.12" textLength="3.48" lengthAdjust="spacingAndGlyphs">)</text>
<text x="99.40" y="584.52" font-size="11.00" fill="#111" stroke="#111" stroke-width="0.12" textLength="3.48" lengthAdjust="spacingAndGlyphs">)</text>
<text x="50.8" y="411.75" font-size="11.6" fill="#111" text-anchor="middle" transform="rotate(-90 50.8 411.75)" dy="4" textLength="106" lengthAdjust="spacingAndGlyphs">Overall survival (%)</text>
<g font-size="11" fill="#111" stroke="#111" stroke-width="0.12">
<text x="177.3" y="559.4" text-anchor="middle">66</text>
<text x="242.1" y="559.4" text-anchor="middle">59</text>
<text x="306.9" y="559.4" text-anchor="middle">42</text>
<text x="371.7" y="559.4" text-anchor="middle">27</text>
<text x="436.5" y="559.4" text-anchor="middle">12</text>
<text x="177.3" y="572.5" text-anchor="middle">11</text>
<text x="242.1" y="572.5" text-anchor="middle">9</text>
<text x="306.9" y="572.5" text-anchor="middle">6</text>
<text x="371.7" y="572.5" text-anchor="middle">4</text>
<text x="436.5" y="572.5" text-anchor="middle">2</text>
<text x="177.3" y="585.4" text-anchor="middle">23</text>
<text x="242.1" y="585.4" text-anchor="middle">22</text>
<text x="306.9" y="585.4" text-anchor="middle">17</text>
<text x="371.7" y="585.4" text-anchor="middle">9</text>
<text x="436.5" y="585.4" text-anchor="middle">4</text>
<text x="112.5" y="559.4" text-anchor="middle">74</text>
<text x="112.5" y="572.5" text-anchor="middle">11</text>
<text x="112.5" y="585.4" text-anchor="middle">25</text>
</g>
<line x1="82.7" y1="555.9" x2="96.9" y2="555.9" stroke="#111" stroke-width="2.4"/>
<line x1="83.8" y1="570.2" x2="97.7" y2="570.2" stroke="#a33030" stroke-width="2.4"/>
<line x1="83.5" y1="581.5" x2="97.7" y2="581.5" stroke="#3f6a3a" stroke-width="2.4"/>
</svg>
</body></html>
